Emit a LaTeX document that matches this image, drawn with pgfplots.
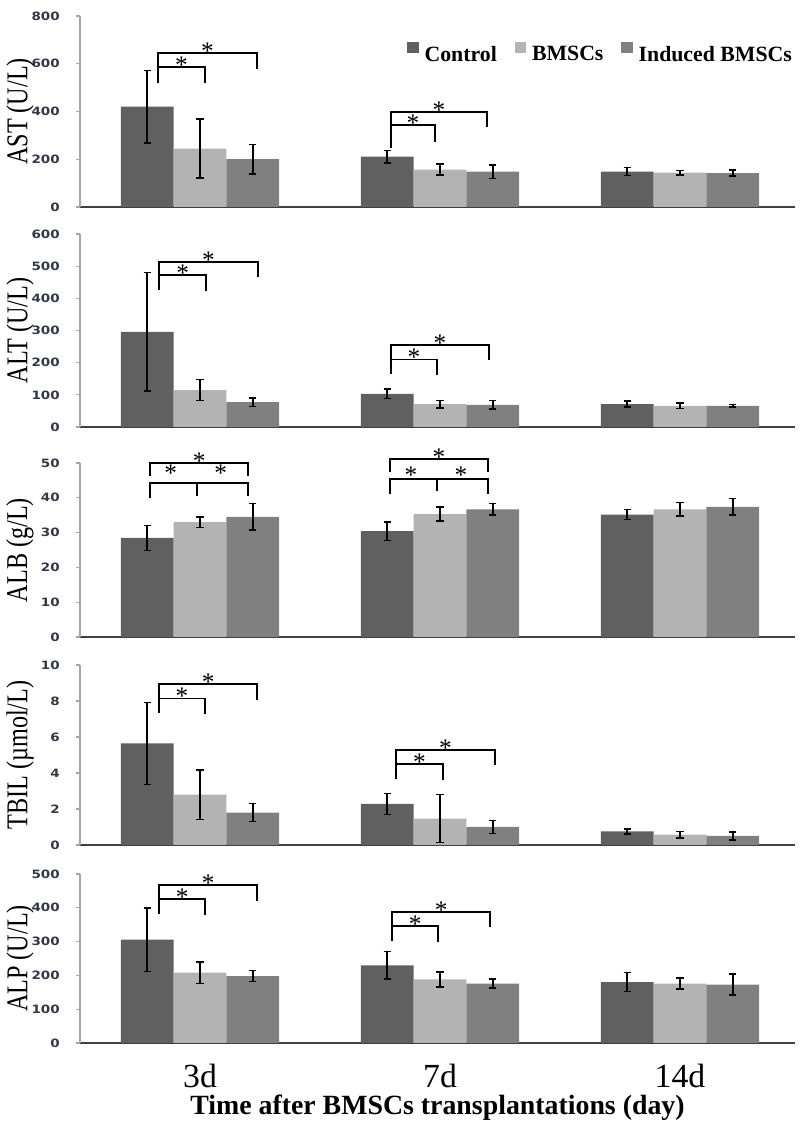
\documentclass[border=0pt]{standalone}
\usepackage{pgfplots}
\pgfplotsset{compat=1.18}
\usepackage{graphicx}
\usepackage{fontspec}
\setmainfont{Liberation Serif}
\newfontfamily\ticksans{DejaVu Sans}
\definecolor{cctrl}{RGB}{96,96,96}
\definecolor{cbm}{RGB}{179,179,179}
\definecolor{cind}{RGB}{128,128,128}
\definecolor{ctick}{RGB}{50,55,70}
\definecolor{cyax}{RGB}{165,165,165}
\definecolor{cxax}{RGB}{64,64,64}
\tikzset{
  brk/.style={line width=1.3pt, black},
  stn/.style={anchor=base, yshift=-0.16cm, inner sep=0pt, font=\fontsize{18}{18}\selectfont},
  stc/.style={anchor=base, yshift=-0.30cm, inner sep=0pt, font=\fontsize{18}{18}\selectfont},
}
\newcommand{\brk}[5]{\draw[brk] (axis cs:#1,#4) -- (axis cs:#1,#3) -- node[stn]{*} (axis cs:#2,#3) -- (axis cs:#2,#5);}
\pgfplotsset{
  panel/.style={
    scale only axis, width=17.875cm, xmin=-0.5, xmax=2.479, ymin=0,
    axis x line*=bottom, axis y line*=left,
    x axis line style={-, draw=cxax, line width=1.4pt},
    y axis line style={-, draw=cyax, line width=0.8pt},
    xtick=\empty,
    ytick align=outside, major tick length=0.1cm,
    y tick style={draw=cyax, line width=0.8pt},
    yticklabel={\scalebox{1}[0.85]{\pgfmathprintnumber[assume math mode=true]{\tick}}},
    yticklabel style={font=\ticksans\bfseries\fontsize{9.6}{12}\selectfont, text=ctick, inner sep=0pt, xshift=-0.4cm},
    ylabel style={at={(axis description cs:-0.0839,0.5)}, anchor=center, font=\fontsize{21.5}{24}\selectfont},
    clip=false,
  },
  cb/.style={ybar, bar width=0.22, bar shift=0pt, draw=none, fill=#1,
    /pgfplots/error bars/y dir=both, /pgfplots/error bars/y explicit,
    /pgfplots/error bars/error bar style={line width=1.1pt, black},
    /pgfplots/error bars/error mark options={rotate=90, mark size=2.6pt, line width=1.1pt, black},
    legend image code/.code={\fill[fill=#1] (0cm,0.05cm) rectangle (0.28cm,0.33cm);}},
}
\begin{document}
\begin{tikzpicture}
\useasboundingbox (0,0) rectangle (20cm,28.1cm);

% ---------------- AST ----------------
\begin{axis}[panel, at={(2cm,22.925cm)}, anchor=south west, height=4.775cm,
  ymax=800, ytick={0,200,...,800}, ylabel={\scalebox{0.8}[1]{AST (U/L)}},
  legend columns=3,
  legend style={draw=none, fill=none, at={(0.996,0.809)}, anchor=east,
    font=\bfseries\fontsize{15.5}{17}\selectfont, inner sep=0pt, nodes={inner sep=0pt},
    /tikz/every odd column/.append style={column sep=0.15cm},
    /tikz/every even column/.append style={column sep=0.45cm}}]
\addplot[cb=cctrl] coordinates {(-0.22,420) +- (0,152) (0.78,211) +- (0,26) (1.78,148) +- (0,17)};
\addlegendentry{Control}
\addplot[cb=cbm] coordinates {(0,245) +- (0,124) (1,157) +- (0,23) (2,144) +- (0,9)};
\addlegendentry{BMSCs}
\addplot[cb=cind] coordinates {(0.22,200) +- (0,62) (1.22,148) +- (0,29) (2.22,142) +- (0,12)};
\addlegendentry{Induced BMSCs}
\brk{-0.175}{0.2375}{644}{520}{577}
\brk{-0.175}{0.021}{585}{520}{518}
\brk{0.796}{1.196}{399}{247}{336}
\brk{0.796}{0.979}{342}{247}{273}
\end{axis}

% ---------------- ALT ----------------
\begin{axis}[panel, at={(2cm,17.425cm)}, anchor=south west, height=4.825cm,
  ymax=600, ytick={0,100,...,600}, ylabel={\scalebox{0.8}[1]{ALT (U/L)}}]
\addplot[cb=cctrl] coordinates {(-0.22,296) +- (0,184) (0.78,103) +- (0,15) (1.78,71) +- (0,9)};
\addplot[cb=cbm] coordinates {(0,115) +- (0,33) (1,71) +- (0,12) (2,66) +- (0,8)};
\addplot[cb=cind] coordinates {(0.22,77) +- (0,13) (1.22,69) +- (0,13) (2.22,66) +- (0,4)};
\brk{-0.170}{0.240}{514}{426}{467}
\brk{-0.170}{0.025}{472}{426}{423}
\brk{0.795}{1.204}{254}{165}{207}
\brk{0.795}{0.9875}{210}{165}{162}
\end{axis}

% ---------------- ALB ----------------
\begin{axis}[panel, at={(2cm,12.175cm)}, anchor=south west, height=4.35cm,
  ymax=50, ytick={0,10,...,50}, ylabel={\scalebox{0.8}[1]{ALB (g/L)}}]
\addplot[cb=cctrl] coordinates {(-0.22,28.5) +- (0,3.6) (0.78,30.4) +- (0,2.7) (1.78,35.2) +- (0,1.5)};
\addplot[cb=cbm] coordinates {(0,33) +- (0,1.5) (1,35.3) +- (0,2) (2,36.7) +- (0,2)};
\addplot[cb=cind] coordinates {(0.22,34.5) +- (0,3.8) (1.22,36.7) +- (0,1.7) (2.22,37.4) +- (0,2.4)};
\brk{-0.208}{0.201}{50}{46.2}{46.2}
\draw[brk] (axis cs:-0.208,40) -- (axis cs:-0.208,44.2) -- (axis cs:0.201,44.2) -- (axis cs:0.201,40.4);
\draw[brk] (axis cs:-0.011,44.2) -- (axis cs:-0.011,40.6);
\node[stc] at (axis cs:-0.122,48.1) {*};
\node[stc] at (axis cs:0.086,48.1) {*};
\brk{0.792}{1.2}{51.2}{47.3}{47.3}
\draw[brk] (axis cs:0.792,41.2) -- (axis cs:0.792,45.4) -- (axis cs:1.2,45.4) -- (axis cs:1.2,41.2);
\draw[brk] (axis cs:0.989,45.4) -- (axis cs:0.989,41.9);
\node[stc] at (axis cs:0.879,47.5) {*};
\node[stc] at (axis cs:1.0875,47.5) {*};
\end{axis}

% ---------------- TBIL ----------------
\begin{axis}[panel, at={(2cm,6.975cm)}, anchor=south west, height=4.5cm,
  ymax=10, ytick={0,2,...,10}, ylabel={\scalebox{0.8}[1]{TBIL (µmol/L)}}]
\addplot[cb=cctrl] coordinates {(-0.22,5.64) +- (0,2.28) (0.78,2.28) +- (0,0.58) (1.78,0.76) +- (0,0.14)};
\addplot[cb=cbm] coordinates {(0,2.8) +- (0,1.38) (1,1.47) +- (0,1.34) (2,0.57) +- (0,0.18)};
\addplot[cb=cind] coordinates {(0.22,1.8) +- (0,0.5) (1.22,1.0) +- (0,0.35) (2.22,0.5) +- (0,0.21)};
\brk{-0.171}{0.239}{8.94}{7.31}{8.05}
\brk{-0.171}{0.021}{8.14}{7.31}{7.28}
\brk{0.817}{1.229}{5.27}{3.64}{4.44}
\brk{0.817}{1.011}{4.49}{3.64}{3.6}
\end{axis}

% ---------------- ALP ----------------
\begin{axis}[panel, at={(2cm,2.025cm)}, anchor=south west, height=4.225cm,
  ymax=500, ytick={0,100,...,500}, ylabel={\scalebox{0.8}[1]{ALP (U/L)}},
  xtick={0,1,2}, xticklabels={3d,7d,14d}, xtick align=inside,
  x tick style={draw=none},
  xticklabel style={anchor=base, yshift=-1.125cm, font=\fontsize{24}{26}\selectfont},
  xlabel={Time after BMSCs transplantations (day)},
  xlabel style={at={(axis description cs:0.5,0)}, anchor=base, yshift=-1.8cm, font=\bfseries\fontsize{19.8}{22}\selectfont}]
\addplot[cb=cctrl] coordinates {(-0.22,306) +- (0,94) (0.78,230) +- (0,41) (1.78,180) +- (0,28)};
\addplot[cb=cbm] coordinates {(0,208) +- (0,32) (1,188) +- (0,22) (2,176) +- (0,17)};
\addplot[cb=cind] coordinates {(0.22,198) +- (0,16) (1.22,176) +- (0,13) (2.22,173) +- (0,31)};
\brk{-0.170}{0.239}{467}{381}{421}
\brk{-0.170}{0.021}{425}{381}{379}
\brk{0.801}{1.208}{387}{302}{344}
\brk{0.801}{0.993}{345}{302}{300}
\end{axis}
\end{tikzpicture}
\end{document}
